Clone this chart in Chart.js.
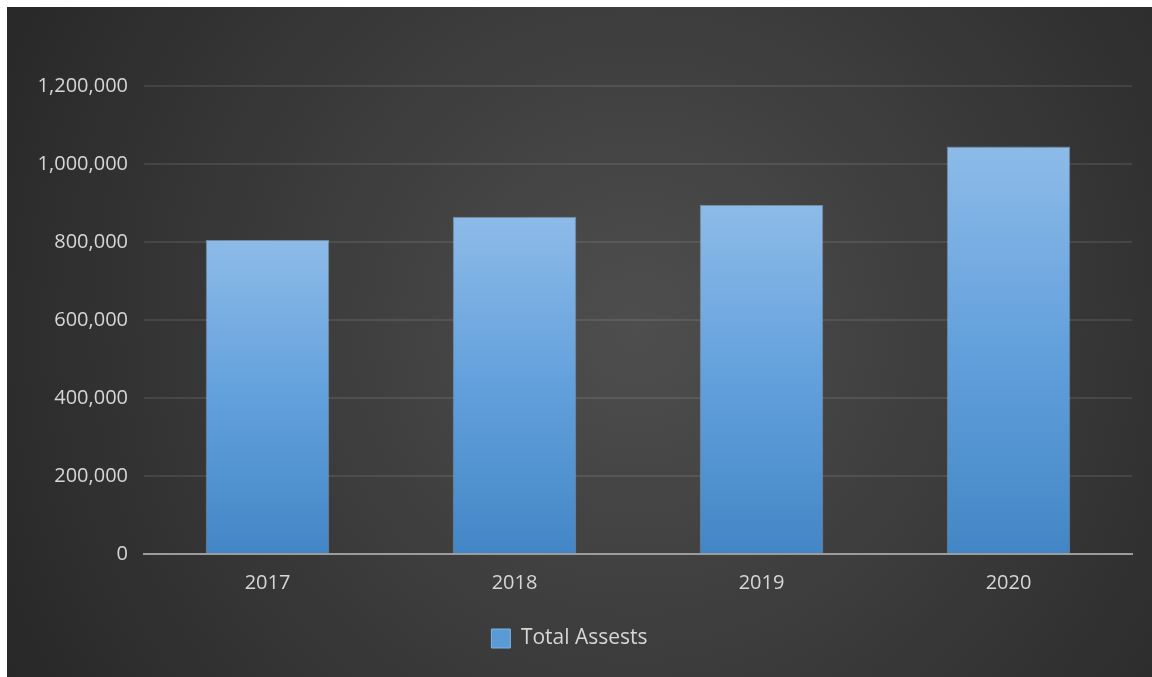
<!DOCTYPE html>
<html>
<head>
<meta charset="utf-8">
<script src="https://cdn.jsdelivr.net/npm/chart.js@4/dist/chart.umd.min.js"></script>
<style>
  html, body { margin: 0; padding: 0; background: #fff; }
  #wrap { position: absolute; left: 7px; top: 7px; width: 1145px; height: 670px; }
</style>
</head>
<body>
<div id="wrap"><canvas id="assetsChart"></canvas></div>
<script>
const years = ['2017', '2018', '2019', '2020'];
const totalAssets = [805000, 865000, 895000, 1045000];
const yTicks = [0, 200000, 400000, 600000, 800000, 1000000, 1200000];

const textColor = '#d6d6d6';

// dark radial backdrop behind the whole chart
const backdrop = {
  id: 'backdrop',
  beforeDraw(chart) {
    const { ctx, width, height } = chart;
    const g = ctx.createRadialGradient(width * 0.55, height * 0.48, 0, width * 0.55, height * 0.48, width * 0.62);
    g.addColorStop(0, '#4e4e4e');
    g.addColorStop(1, '#282828');
    ctx.save();
    ctx.fillStyle = g;
    ctx.fillRect(0, 0, width, height);
    ctx.restore();
  }
};

// each bar fades from light blue at its top to a deeper blue at the base
function barFill(context) {
  const chart = context.chart;
  const area = chart.chartArea;
  if (!area || context.parsed == null) return '#5b9bd5';
  const top = chart.scales.y.getPixelForValue(context.parsed.y);
  const g = chart.ctx.createLinearGradient(0, top, 0, area.bottom);
  g.addColorStop(0, '#8dbbe8');
  g.addColorStop(0.5, '#62a0dc');
  g.addColorStop(1, '#4386c6');
  return g;
}

new Chart(document.getElementById('assetsChart'), {
  type: 'bar',
  data: {
    labels: years,
    datasets: [{
      label: 'Total Assests',
      data: totalAssets,
      backgroundColor: barFill,
      borderColor: 'rgba(160, 200, 240, 0.55)',
      borderWidth: 1,
      barPercentage: 0.5,
      categoryPercentage: 1
    }]
  },
  options: {
    responsive: true,
    maintainAspectRatio: false,
    animation: false,
    layout: { padding: { top: 79, right: 20, bottom: 18, left: 0 } },
    plugins: {
      tooltip: { enabled: false },
      legend: {
        position: 'bottom',
        labels: {
          color: textColor,
          font: { family: 'Open Sans', size: 21 },
          boxWidth: 19,
          boxHeight: 19,
          padding: 10,
          generateLabels: (chart) => [{
            text: 'Total Assests',
            fillStyle: '#5b9bd5',
            strokeStyle: '#7fb3e6',
            lineWidth: 1,
            fontColor: textColor,
            datasetIndex: 0
          }]
        }
      }
    },
    scales: {
      x: {
        grid: { display: false, drawTicks: false },
        border: { display: true, color: '#9c9c9c', width: 2 },
        ticks: {
          color: textColor,
          font: { family: 'Open Sans', size: 20 },
          padding: 17
        },
        afterFit: (scale) => { scale.height = 64; }
      },
      y: {
        min: 0,
        max: 1200000,
        grid: { color: 'rgba(255,255,255,0.09)', lineWidth: 2, drawTicks: false },
        border: { display: false },
        afterBuildTicks: (scale) => { scale.ticks = yTicks.map(v => ({ value: v })); },
        afterFit: (scale) => { scale.width = 137; },
        ticks: {
          color: textColor,
          font: { family: 'Open Sans', size: 20 },
          padding: 16,
          callback: (value) => value.toLocaleString('en-US')
        }
      }
    }
  },
  plugins: [backdrop]
});
</script>
</body>
</html>
